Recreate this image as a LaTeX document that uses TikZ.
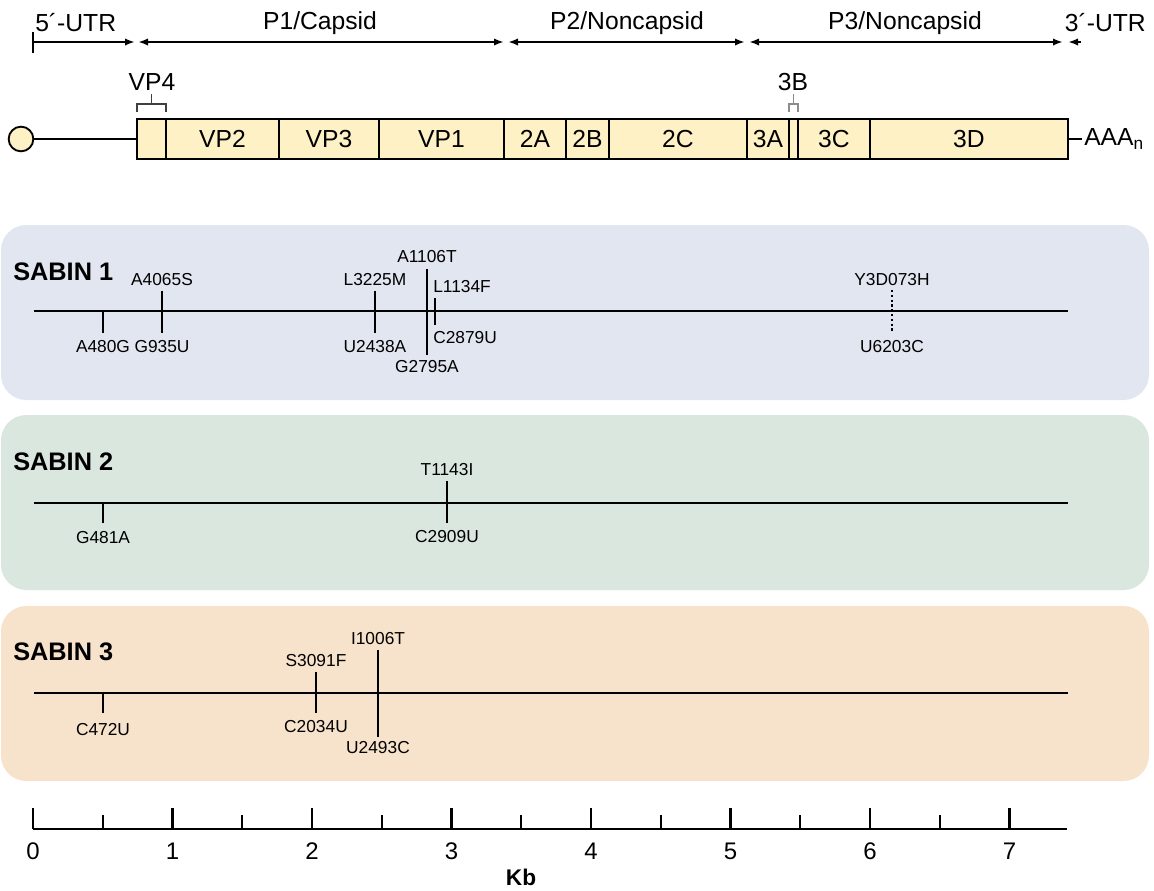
\documentclass[tikz,border=0pt]{standalone}
\usepackage{fontspec}
\setmainfont{Liberation Sans}
\usetikzlibrary{arrows.meta}
\definecolor{genome}{RGB}{255,241,198}
\definecolor{bgone}{RGB}{226,230,240}
\definecolor{bgtwo}{RGB}{218,231,223}
\definecolor{bgthree}{RGB}{247,226,203}
\begin{document}
\begin{tikzpicture}[x=0.75pt,y=-0.75pt,
  hdr/.style={font=\fontsize{18.5}{20}\selectfont, inner sep=0pt},
  seglab/.style={font=\fontsize{18.5}{20}\selectfont, inner sep=0pt},
  mut/.style={font=\fontsize{13}{14}\selectfont, inner sep=0pt},
  sabin/.style={font=\fontsize{19}{21}\selectfont\bfseries, inner sep=0pt, anchor=west},
  axnum/.style={font=\fontsize{18}{20}\selectfont, inner sep=0pt},
  panel/.style={rounded corners=19pt},
  lane/.style={line width=1.8pt},
  tk/.style={line width=1.6pt},
  dottk/.style={line width=1.6pt, dotted},
  hline/.style={line width=1.5pt},
  brk/.style={line width=1.1pt},
]
\useasboundingbox (0,0) rectangle (1154,890);

% ---------- header ----------
\node[hdr, anchor=west] (utr5) at (35,23) {5\textasciiacute-UTR};
\node[hdr] (p1) at (320,23) {P1/Capsid};
\node[hdr] (p2) at (627,23) {P2/Noncapsid};
\node[hdr] (p3) at (905,23) {P3/Noncapsid};
\node[hdr, anchor=east] (utr3) at (1146,23) {3\textasciiacute-UTR};

\coordinate (tkt) at (33,32); \coordinate (tkb) at (33,53);
\draw[tk] (tkt) -- (tkb);
\coordinate (a0) at (33,42);   \coordinate (a1) at (135,42);
\coordinate (b0) at (138,42);  \coordinate (b1) at (504,42);
\coordinate (c0) at (508,42);  \coordinate (c1) at (745,42);
\coordinate (d0) at (749,42);  \coordinate (d1) at (1063,42);
\coordinate (e0) at (1081,42); \coordinate (e1) at (1068,42);
\draw[hline, -{Latex[length=7.5pt,width=5.5pt]}] (a0) -- (a1);
\draw[hline, {Latex[length=7.5pt,width=5.5pt]}-{Latex[length=7.5pt,width=5.5pt]}] (b0) -- (b1);
\draw[hline, {Latex[length=7.5pt,width=5.5pt]}-{Latex[length=7.5pt,width=5.5pt]}] (c0) -- (c1);
\draw[hline, {Latex[length=7.5pt,width=5.5pt]}-{Latex[length=7.5pt,width=5.5pt]}] (d0) -- (d1);
\draw[hline, -{Latex[length=7.5pt,width=5.5pt]}] (e0) -- (e1);

% ---------- genome ----------
\node[circle, draw, line width=1.4pt, fill=genome, minimum size=18.5pt, inner sep=0pt] (cap) at (21,139) {};
\coordinate (boxL) at (137,139);
\draw[line width=1.4pt] (cap.east) -- (boxL);
\draw[line width=1.5pt, fill=genome] (137,119) rectangle (1068,159);
\foreach \x in {166,279,379,504,566,609,747,789,798,870}
  \draw[line width=1.5pt] (\x,119) -- (\x,159);
\node[seglab] (vp2) at (222.5,139) {VP2};
\node[seglab] (vp3) at (329,139) {VP3};
\node[seglab] (vp1) at (441.5,139) {VP1};
\node[seglab] (s2a) at (535,139) {2A};
\node[seglab] (s2b) at (587.5,139) {2B};
\node[seglab] (s2c) at (678,139) {2C};
\node[seglab] (s3a) at (768,139) {3A};
\node[seglab] (s3c) at (834,139) {3C};
\node[seglab] (s3d) at (969,139) {3D};
\coordinate (boxR) at (1068,139); \coordinate (dashR) at (1082,139);
\draw[line width=1.4pt] (boxR) -- (dashR);
\node[seglab, anchor=west] (aaa) at (1084,139) {AAA\textsubscript{n}};

% VP4 bracket
\draw[brk, draw=black!75] (137,112) -- (137,104) -- (166,104) -- (166,112);
\draw[brk, draw=black!75] (151.5,104) -- (151.5,94);
\node[hdr] (vp4) at (152,82) {VP4};
% 3B bracket
\draw[brk, draw=black!45] (789,112) -- (789,104) -- (798,104) -- (798,112);
\draw[brk, draw=black!45] (793.5,104) -- (793.5,94);
\node[hdr] (b3) at (793,82) {3B};

% ---------- panels ----------
\fill[bgone, panel] (1,225) rectangle (1149,400);
\fill[bgtwo, panel] (1,415) rectangle (1149,590);
\fill[bgthree, panel] (1,606) rectangle (1149,781);

% ---------- SABIN 1 ----------
\node[sabin] (sab1) at (13,272) {SABIN 1};
\draw[lane] (34,311) -- (1068,311);
\draw[tk] (103,311) -- (103,333);
\node[mut] (m1a) at (103,347) {A480G};
\draw[tk] (162,291) -- (162,333);
\node[mut] (m1b) at (162,280) {A4065S};
\node[mut] (m1c) at (162,347) {G935U};
\draw[tk] (375,291) -- (375,333);
\node[mut] (m1d) at (375,280) {L3225M};
\node[mut] (m1e) at (375,347) {U2438A};
\draw[tk] (427,269) -- (427,355);
\node[mut] (m1f) at (427,257) {A1106T};
\node[mut] (m1g) at (427,367) {G2795A};
\draw[tk] (435,298) -- (435,325);
\node[mut, anchor=west] (m1h) at (433,287) {L1134F};
\node[mut, anchor=west] (m1i) at (433,338) {C2879U};
\draw[dottk] (892,290) -- (892,333);
\node[mut] (m1j) at (892,280) {Y3D073H};
\node[mut] (m1k) at (892,347) {U6203C};

% ---------- SABIN 2 ----------
\node[sabin] (sab2) at (13,462) {SABIN 2};
\draw[lane] (34,503) -- (1068,503);
\draw[tk] (103,503) -- (103,523);
\node[mut] (m2a) at (103,538) {G481A};
\draw[tk] (447,481) -- (447,523);
\node[mut] (m2b) at (447,470) {T1143I};
\node[mut] (m2c) at (447,537) {C2909U};

% ---------- SABIN 3 ----------
\node[sabin] (sab3) at (13,652) {SABIN 3};
\draw[lane] (34,693) -- (1068,693);
\draw[tk] (103,693) -- (103,713);
\node[mut] (m3a) at (103,730) {C472U};
\draw[tk] (316,672) -- (316,713);
\node[mut] (m3b) at (316,661) {S3091F};
\node[mut] (m3c) at (316,727) {C2034U};
\draw[tk] (378,650) -- (378,737);
\node[mut] (m3d) at (378,639) {I1006T};
\node[mut] (m3e) at (378,748) {U2493C};

% ---------- axis ----------
\draw[lane] (33,829) -- (1067,829);
\foreach \k in {0,...,7} {
  \draw[tk] ({33+139.5*\k},808) -- ({33+139.5*\k},829);
  \node[axnum] (n\k) at ({33+139.5*\k},851) {\k};
}
\foreach \k in {0,...,6}
  \draw[tk] ({33+139.5*\k+69.75},815) -- ({33+139.5*\k+69.75},829);
\node[axnum, font=\fontsize{17}{20}\selectfont\bfseries] (kb) at (521,877) {Kb};
\end{tikzpicture}
\end{document}
